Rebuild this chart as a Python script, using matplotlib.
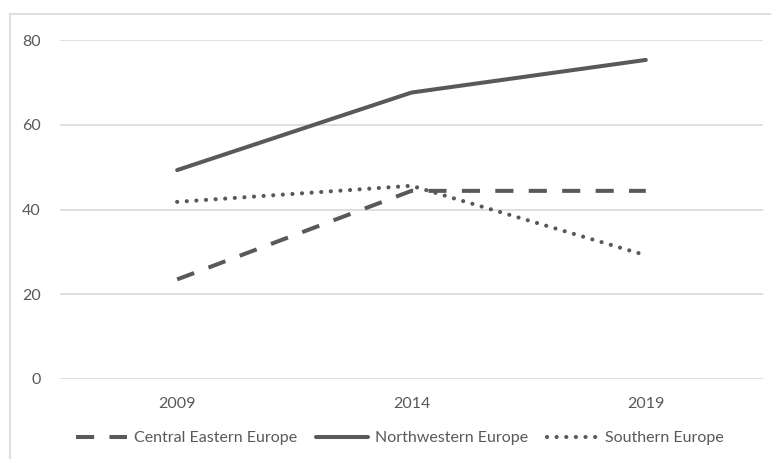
import matplotlib.pyplot as plt
from matplotlib.lines import Line2D

years = ["2009", "2014", "2019"]
central_eastern = [23.5, 44.4, 44.4]
northwestern = [49.3, 67.6, 75.3]
southern = [41.8, 45.6, 29.2]

line_color = "#595959"
grid_color = "#d9d9d9"
text_color = "#595959"

plt.rcParams["font.family"] = ["Lato", "DejaVu Sans"]

fig = plt.figure(figsize=(7.71, 4.59), dpi=100)
ax = fig.add_axes([60 / 771, 80 / 459, 703 / 771, 339 / 459])

x = range(len(years))
ax.plot(x, central_eastern, color=line_color, lw=2.9, dashes=(4.5, 3.8),
        dash_capstyle="butt", label="Central Eastern Europe")
ax.plot(x, northwestern, color=line_color, lw=2.9, solid_capstyle="round",
        label="Northwestern Europe")
ax.plot(x, southern, color=line_color, lw=3.0, dashes=(0.01, 2.3),
        dash_capstyle="round", label="Southern Europe")

ax.set_xlim(-0.5, 2.5)
ax.set_ylim(0, 80)
ax.set_yticks([0, 20, 40, 60, 80])
ax.set_xticks(list(x))
ax.set_xticklabels(years)
ax.yaxis.grid(True, color=grid_color, lw=1.2)
ax.set_axisbelow(True)
for s in ax.spines.values():
    s.set_visible(False)
ax.tick_params(axis="both", length=0, labelsize=11.5, colors=text_color)
ax.tick_params(axis="y", pad=14)
ax.tick_params(axis="x", pad=13)

leg = fig.legend(loc="center", bbox_to_anchor=(400 / 771, 1 - 438 / 459), ncol=3,
                 frameon=False, fontsize=11.5, handlelength=3.2, handletextpad=0.45,
                 columnspacing=1.2)
for t in leg.get_texts():
    t.set_color(text_color)

# outer chart border (only left and top edges visible in the crop)
fig.add_artist(Line2D([10 / 771, 10 / 771], [0, 1 - 14 / 459], color=grid_color, lw=1.2))
fig.add_artist(Line2D([10 / 771, 1], [1 - 14 / 459, 1 - 14 / 459], color=grid_color, lw=1.2))

fig.savefig("out.png", dpi=100)
